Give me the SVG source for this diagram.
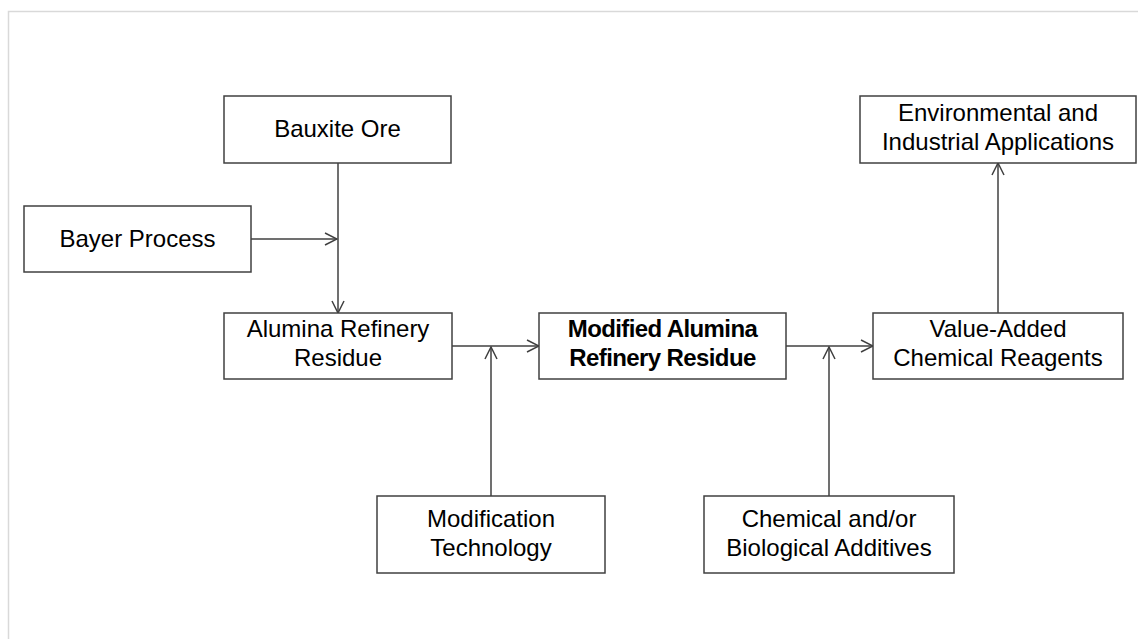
<svg xmlns="http://www.w3.org/2000/svg" width="1138" height="639" viewBox="0 0 1138 639">
<defs>
<style>
.box{fill:#fff;stroke:#404040;stroke-width:1.5}
.t{font-family:"Liberation Sans",Arial,sans-serif;font-size:24px;fill:#000;text-anchor:middle}
.b{font-weight:bold;letter-spacing:-0.6px}
.c{fill:none;stroke:#404040;stroke-width:1.5}
</style>
<marker id="ah" viewBox="0 0 14 14" refX="13" refY="7" markerWidth="14" markerHeight="14" markerUnits="userSpaceOnUse" orient="auto">
<path d="M1,1 L13,7 L1,13" fill="none" stroke="#404040" stroke-width="1.5"/>
</marker>
</defs>
<rect width="1138" height="639" fill="#fff"/>
<path d="M8.5,639 V11.5 H1138" fill="none" stroke="#d9d9d9" stroke-width="1.5"/>
<g id="connectors">
<line class="c" x1="338" y1="163" x2="338" y2="313" marker-end="url(#ah)"/>
<line class="c" x1="251" y1="239" x2="337" y2="239" marker-end="url(#ah)"/>
<line class="c" x1="452" y1="346" x2="539" y2="346" marker-end="url(#ah)"/>
<line class="c" x1="491" y1="496" x2="491" y2="347" marker-end="url(#ah)"/>
<line class="c" x1="786" y1="346" x2="873" y2="346" marker-end="url(#ah)"/>
<line class="c" x1="829" y1="496" x2="829" y2="347" marker-end="url(#ah)"/>
<line class="c" x1="998" y1="313" x2="998" y2="163" marker-end="url(#ah)"/>
</g>
<g id="bauxite">
<rect class="box" x="224" y="96" width="227" height="67"/>
<text class="t" x="337.5" y="137">Bauxite Ore</text>
</g>
<g id="bayer">
<rect class="box" x="24" y="206" width="227" height="66"/>
<text class="t" x="137.5" y="247">Bayer Process</text>
</g>
<g id="residue">
<rect class="box" x="224" y="313" width="228" height="66"/>
<text class="t" x="338" y="337">Alumina Refinery</text>
<text class="t" x="338" y="366">Residue</text>
</g>
<g id="modified">
<rect class="box" x="539" y="313" width="247" height="66"/>
<text class="t b" x="662.5" y="337">Modified Alumina</text>
<text class="t b" x="662.5" y="366">Refinery Residue</text>
</g>
<g id="reagents">
<rect class="box" x="873" y="313" width="250" height="66"/>
<text class="t" x="998" y="337">Value-Added</text>
<text class="t" x="998" y="366">Chemical Reagents</text>
</g>
<g id="applications">
<rect class="box" x="860" y="96" width="276" height="67"/>
<text class="t" x="998" y="121">Environmental and</text>
<text class="t" x="998" y="150">Industrial Applications</text>
</g>
<g id="modtech">
<rect class="box" x="377" y="496" width="228" height="77"/>
<text class="t" x="491" y="527">Modification</text>
<text class="t" x="491" y="556">Technology</text>
</g>
<g id="additives">
<rect class="box" x="704" y="496" width="250" height="77"/>
<text class="t" x="829" y="527">Chemical and/or</text>
<text class="t" x="829" y="556">Biological Additives</text>
</g>
</svg>
